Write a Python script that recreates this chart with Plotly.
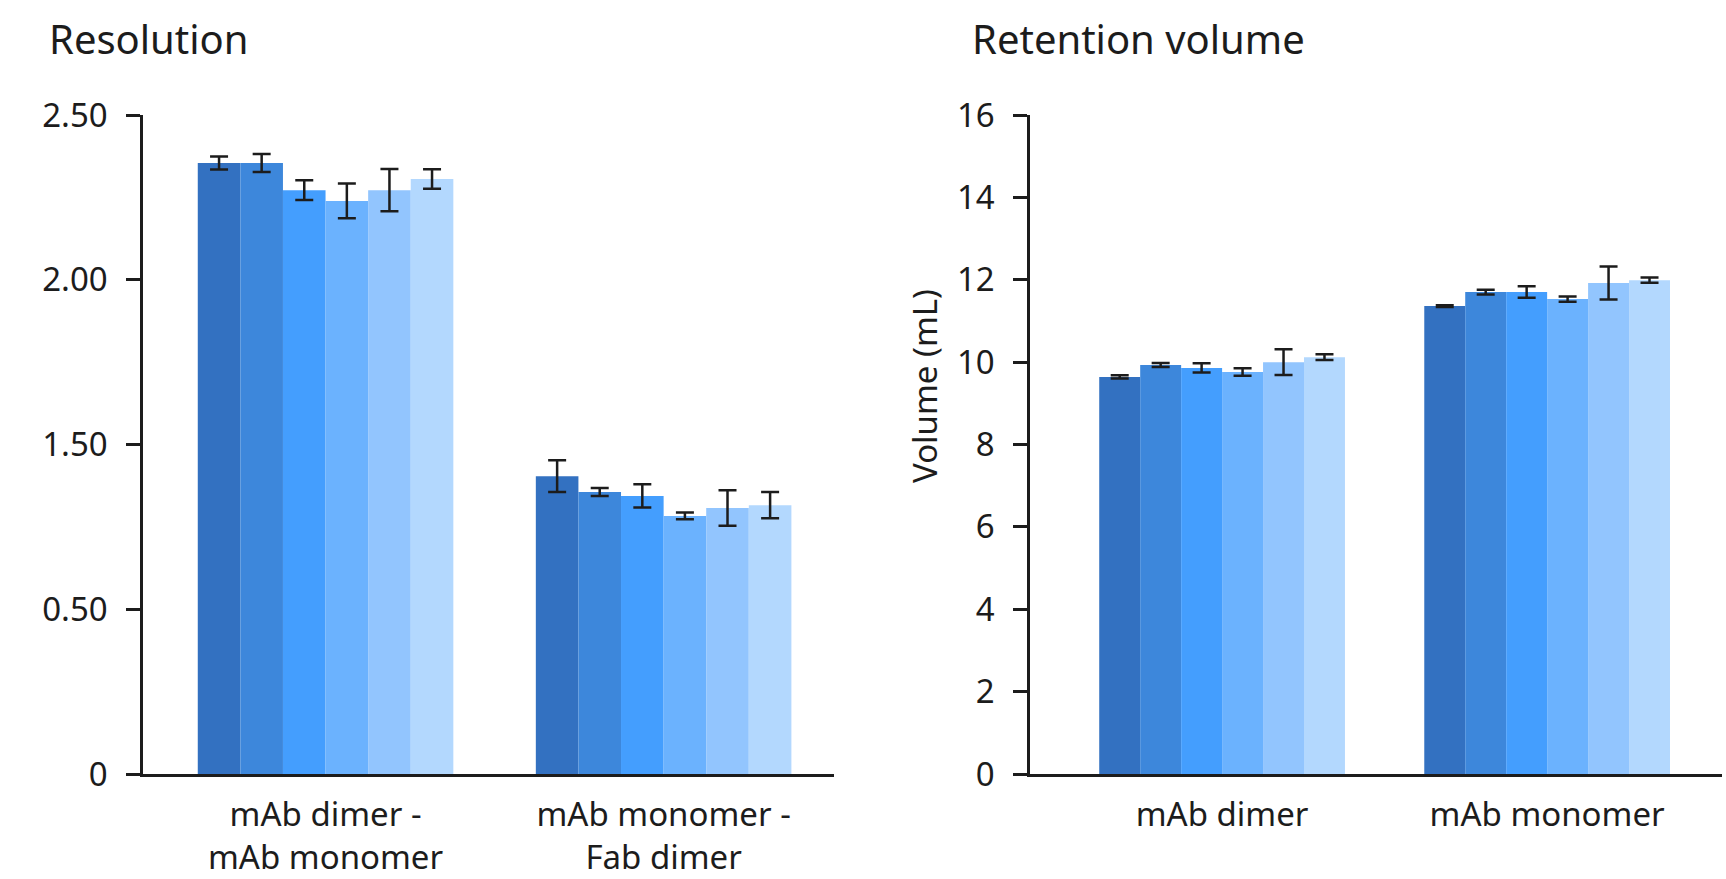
import plotly.graph_objects as go

# ---------------- data ----------------
res_categories = ["mAb dimer -<br>mAb monomer", "mAb monomer -<br>Fab dimer"]
ret_categories = ["mAb dimer", "mAb monomer"]
series_names = ["Condition 1", "Condition 2", "Condition 3", "Condition 4", "Condition 5", "Condition 6"]

res_c1 = [2.318, 1.130]
res_c2 = [2.318, 1.070]
res_c3 = [2.215, 1.055]
res_c4 = [2.174, 0.979]
res_c5 = [2.215, 1.009]
res_c6 = [2.257, 1.020]
res_err_c1 = [0.025, 0.060]
res_err_c2 = [0.034, 0.015]
res_err_c3 = [0.037, 0.044]
res_err_c4 = [0.066, 0.013]
res_err_c5 = [0.080, 0.067]
res_err_c6 = [0.037, 0.050]

ret_c1 = [9.64, 11.36]
ret_c2 = [9.93, 11.70]
ret_c3 = [9.86, 11.70]
ret_c4 = [9.76, 11.53]
ret_c5 = [10.00, 11.92]
ret_c6 = [10.12, 11.99]
ret_err_c1 = [0.04, 0.02]
ret_err_c2 = [0.05, 0.06]
ret_err_c3 = [0.11, 0.14]
ret_err_c4 = [0.09, 0.065]
ret_err_c5 = [0.31, 0.40]
ret_err_c6 = [0.07, 0.065]

res_tickvals = [0, 0.625, 1.25, 1.875, 2.5]
res_ticktext = ["0", "0.50", "1.50", "2.00", "2.50"]
ret_tickvals = [0, 2, 4, 6, 8, 10, 12, 14, 16]
ret_ticktext = ["0", "2", "4", "6", "8", "10", "12", "14", "16"]

# ---------------- style ----------------
colors = ["#3371C1", "#3D87DB", "#449EFE", "#6BB2FE", "#92C5FE", "#B3D8FE"]
FONT = "Noto Sans"
INK = "#1c1c1c"
W, H = 1726, 879

res_series = [res_c1, res_c2, res_c3, res_c4, res_c5, res_c6]
res_errs = [res_err_c1, res_err_c2, res_err_c3, res_err_c4, res_err_c5, res_err_c6]
ret_series = [ret_c1, ret_c2, ret_c3, ret_c4, ret_c5, ret_c6]
ret_errs = [ret_err_c1, ret_err_c2, ret_err_c3, ret_err_c4, ret_err_c5, ret_err_c6]

fig = go.Figure()
for name, col, vals, errs in zip(series_names, colors, res_series, res_errs):
    fig.add_trace(go.Bar(
        x=res_categories, y=vals, name=name, marker=dict(color=col, line=dict(width=0)),
        error_y=dict(type="data", array=errs, color=INK, thickness=2.5, width=9),
        xaxis="x", yaxis="y", showlegend=False))
for name, col, vals, errs in zip(series_names, colors, ret_series, ret_errs):
    fig.add_trace(go.Bar(
        x=ret_categories, y=vals, name=name, marker=dict(color=col, line=dict(width=0)),
        error_y=dict(type="data", array=errs, color=INK, thickness=2.5, width=9),
        xaxis="x2", yaxis="y2", showlegend=False))

dom_left = [143 / W, 834 / W]
dom_right = [1030 / W, 1722 / W]
dom_y = [105 / H, 764 / H]
left_range = [-0.540, 1.504]
right_range = [-0.591, 1.538]

tickfont = dict(family=FONT, size=33, color=INK)

common_x = dict(showgrid=False, zeroline=False, showline=True, linecolor=INK, linewidth=2.5,
                ticks="", tickfont=tickfont, ticklabelstandoff=10, automargin=False)
common_y = dict(showgrid=False, zeroline=False, showline=True, linecolor=INK, linewidth=2.5,
                ticks="outside", ticklen=14, tickwidth=2.5, tickcolor=INK,
                tickfont=tickfont, ticklabelstandoff=12, automargin=False)
boundary_x = dict(showgrid=False, zeroline=False, showline=False, ticks="outside", ticklen=13,
                  tickwidth=2.5, tickcolor=INK, showticklabels=False, type="linear",
                  automargin=False)

fig.update_layout(
    width=W, height=H, margin=dict(l=0, r=0, t=0, b=0, autoexpand=False),
    paper_bgcolor="white", plot_bgcolor="white",
    barmode="group", bargap=0.244, bargroupgap=0,
    font=dict(family=FONT, color=INK),
    xaxis=dict(domain=dom_left, anchor="y", type="category", range=left_range, **common_x),
    yaxis=dict(domain=dom_y, anchor="x", range=[0, 2.5], tickvals=res_tickvals,
               ticktext=res_ticktext, **common_y),
    xaxis2=dict(domain=dom_right, anchor="y2", type="category", range=right_range, **common_x),
    yaxis2=dict(domain=dom_y, anchor="x2", range=[0, 16], tickvals=ret_tickvals,
                ticktext=ret_ticktext, **common_y),
    xaxis3=dict(overlaying="x", anchor="y", range=left_range,
                tickvals=[left_range[0], 0.484, left_range[1]], **boundary_x),
    xaxis4=dict(overlaying="x2", anchor="y2", range=right_range,
                tickvals=[right_range[0], 0.477, right_range[1]], **boundary_x),
    annotations=[
        dict(text="Resolution", x=47 / W, y=1 - 39 / H, xref="paper", yref="paper",
             xanchor="left", yanchor="middle", showarrow=False,
             font=dict(family=FONT, size=40, color=INK)),
        dict(text="Retention volume", x=970 / W, y=1 - 39 / H, xref="paper", yref="paper",
             xanchor="left", yanchor="middle", showarrow=False,
             font=dict(family=FONT, size=40, color=INK)),
        dict(text="Volume (mL)", x=925 / W, y=1 - 386 / H, xref="paper", yref="paper",
             xanchor="center", yanchor="middle", textangle=-90, showarrow=False,
             font=dict(family=FONT, size=33, color=INK)),
    ],
)

fig.write_html(
    "out.html",
    config={"displayModeBar": False},
    post_script="document.body.style.margin='0';document.body.style.overflow='hidden';",
)
